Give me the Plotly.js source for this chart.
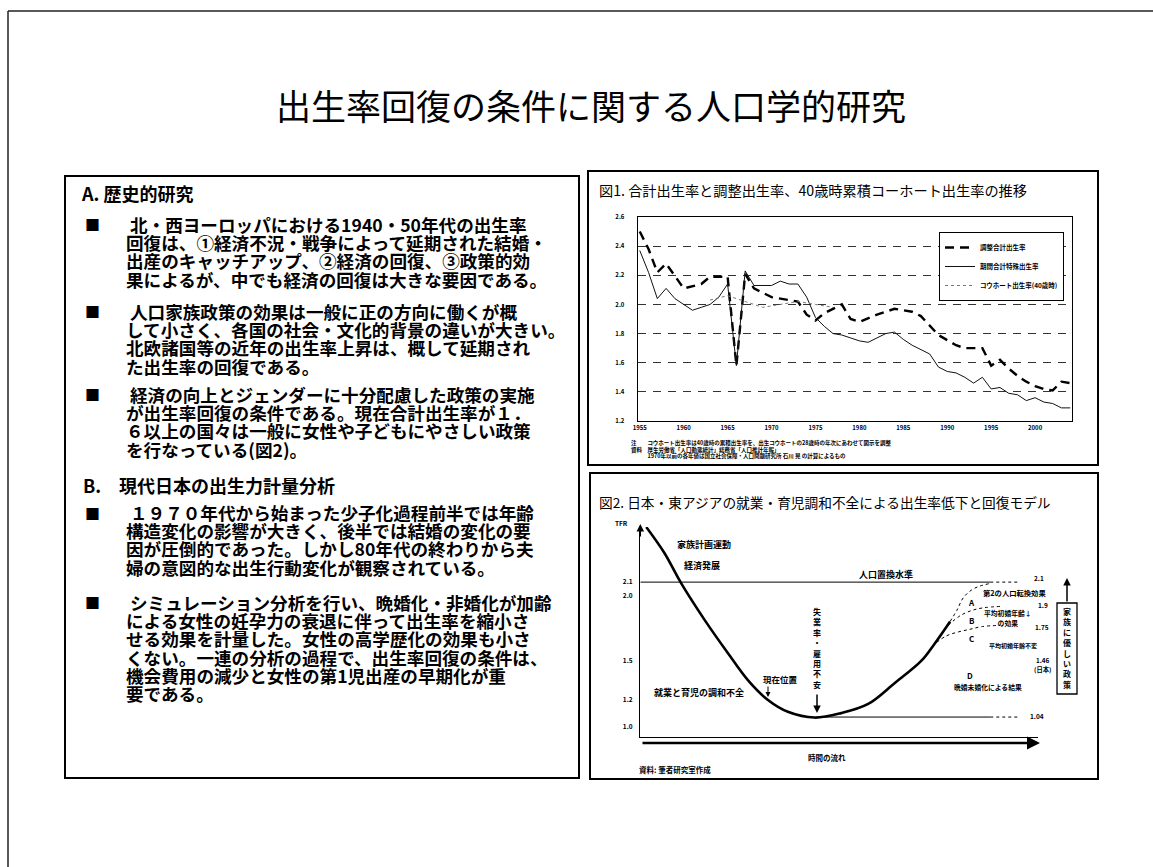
<!DOCTYPE html>
<html><head><meta charset="utf-8">
<script src="https://cdn.plot.ly/plotly-3.0.1.min.js"></script>
<style>html,body{margin:0;padding:0;background:#fff;}#chart{width:1153px;height:867px;}</style>
</head><body><div id="chart"></div>
<script>
// ---------- Fig.1 data ----------
const years = [1955,1956,1957,1958,1959,1960,1961,1962,1963,1964,1965,1966,1967,1968,1969,1970,1971,1972,1973,1974,1975,1976,1977,1978,1979,1980,1981,1982,1983,1984,1985,1986,1987,1988,1989,1990,1991,1992,1993,1994,1995,1996,1997,1998,1999,2000,2001,2002,2003,2004];
const tfr = [2.37,2.22,2.04,2.11,2.04,2.00,1.96,1.98,2.00,2.05,2.14,1.58,2.23,2.13,2.13,2.13,2.16,2.14,2.14,2.05,1.91,1.85,1.80,1.79,1.77,1.75,1.74,1.77,1.80,1.81,1.76,1.72,1.69,1.66,1.57,1.54,1.53,1.50,1.46,1.50,1.42,1.43,1.39,1.38,1.34,1.36,1.33,1.32,1.29,1.29];
const adjYears = [1955,1956,1957,1958,1960,1962,1963,1965,1966,1967,1968,1970,1973,1974,1975,1976,1978,1979,1980,1982,1984,1985,1986,1987,1989,1991,1992,1994,1995,1996,1997,1998,1999,2000,2001,2002,2003,2004];
const adjTfr = [2.50,2.38,2.22,2.28,2.11,2.14,2.19,2.19,1.58,2.21,2.11,2.05,2.02,1.93,1.89,1.94,2.00,1.90,1.88,1.93,1.97,1.96,1.95,1.92,1.79,1.72,1.70,1.70,1.58,1.62,1.56,1.51,1.47,1.44,1.42,1.41,1.47,1.46];
const cohortYears = [1963,1965,1967,1969,1971,1973,1975,1977];
const cohortTfr = [2.03,2.06,2.02,1.98,2.00,2.02,2.00,1.98];
const seriesNames = ['調整合計出生率','期間合計特殊出生率','コウホート出生率(40歳時)'];
const fig1Years = [1955,1960,1965,1970,1975,1980,1985,1990,1995,2000];

// ---------- Fig.2 data (schematic model) ----------
const curveX = [1.5,6.1,10.3,16.2,22.1,27.1,32.1,37.1,43.8,50.5,57.3,64.0,70.7,74.0,77.9];
const curveY = [2.52,2.32,2.09,1.81,1.555,1.35,1.20,1.11,1.066,1.10,1.17,1.33,1.50,1.63,1.80];
const branchAX = [77.9,79.6,81.2,83.3,85.4,88.0];
const branchAY = [1.80,1.885,1.98,2.04,2.07,2.09];
const branchBX = [77.4,80.5,83.5,86.5,91.0];
const branchBY = [1.77,1.845,1.885,1.905,1.915];
const branchCX = [74.5,77.0,80.0,82.9,85.8,90.4];
const branchCY = [1.64,1.69,1.72,1.74,1.76,1.77];
const replSolidX = [0,88], replDotX = [88,95.5], replLevel = 2.1;
const minSolidX = [45,88], minDotX = [88,95], minLevel = 1.07;
const fig2TickVals = [1.0,1.2,1.5,2.0,2.1];
const fig2TickText = ['1.0','1.2','1.5','2.0','2.1'];

// ---------- Texts ----------
const slideTitle = '出生率回復の条件に関する人口学的研究';
const fig1Title = '図1. 合計出生率と調整出生率、40歳時累積コーホート出生率の推移';
const fig2Title = '図2. 日本・東アジアの就業・育児調和不全による出生率低下と回復モデル';
const fig1Notes = ['注　　コウホート出生率は40歳時の累積出生率を、出生コウホートの28歳時の年次にあわせて図示を調整',
  '資料　厚生労働省「人口動態統計」総務省「人口推計年報」',
  '　　　1970年以前の各年値は国立社会保障・人口問題研究所 石川 晃 の計算によるもの'];
const headA = 'A. 歴史的研究';
const headB1 = 'B.', headB2 = '現代日本の出生力計量分析';
const bullets = [
 [' 北・西ヨーロッパにおける1940・50年代の出生率','回復は、①経済不況・戦争によって延期された結婚・','出産のキャッチアップ、②経済の回復、③政策的効','果によるが、中でも経済の回復は大きな要因である。'],
 [' 人口家族政策の効果は一般に正の方向に働くが概','して小さく、各国の社会・文化的背景の違いが大きい。','北欧諸国等の近年の出生率上昇は、概して延期され','た出生率の回復である。'],
 [' 経済の向上とジェンダーに十分配慮した政策の実施','が出生率回復の条件である。現在合計出生率が１．','６以上の国々は一般に女性や子どもにやさしい政策','を行なっている(図2)。'],
 [' １９７０年代から始まった少子化過程前半では年齢','構造変化の影響が大きく、後半では結婚の変化の要','因が圧倒的であった。しかし80年代の終わりから夫','婦の意図的な出生行動変化が観察されている。'],
 [' シミュレーション分析を行い、晩婚化・非婚化が加齢','による女性の妊孕力の衰退に伴って出生率を縮小さ','せる効果を計量した。女性の高学歴化の効果も小さ','くない。一連の分析の過程で、出生率回復の条件は、','機会費用の減少と女性の第1児出産の早期化が重','要である。']
];

// ---------- helpers ----------
const W = 1153, H = 867;
const X = p => p / W, Y = p => 1 - p / H;
const FONT = '"Noto Sans CJK JP", "Noto Sans CJK SC", sans-serif';
function T(text, px, py, size, o) {
  o = o || {};
  return {text: text, x: X(px), y: Y(py), xref: 'paper', yref: 'paper', showarrow: false,
    xanchor: o.xa || 'left', yanchor: 'middle', align: o.align || 'left', borderpad: 0,
    font: {family: FONT, size: size, color: '#000', weight: o.w || 'normal'}};
}
// multi-line block: line pitch = 1.3*base; glyphs drawn at glyph size
function BLOCK(lines, px, firstY, pitch, glyph, o) {
  const base = pitch / 1.3;
  const txt = '<span style="font-size:' + glyph + 'px">' + lines.join('<br>') + '</span>';
  const cy = firstY + pitch * (lines.length - 1) / 2;
  return T(txt, px, cy, base, o);
}
function ARW(px, py, dx, dy, w, head) {
  return {text: '', x: X(px), y: Y(py), xref: 'paper', yref: 'paper', showarrow: true,
    ax: dx, ay: dy, axref: 'pixel', ayref: 'pixel', arrowhead: head || 2, arrowsize: 1,
    arrowwidth: w || 1.2, arrowcolor: '#000'};
}

const ann = [];
ann.push(T(slideTitle, 591, 105, 35, {xa: 'center'}));
ann.push(T(headA, 80, 193, 18, {w: 'bold'}));
ann.push(T(headB1, 82, 485, 18, {w: 'bold'}));
ann.push(T(headB2, 118, 485, 18, {w: 'bold'}));
const firstLineY = [225, 312, 395, 513, 602];
bullets.forEach((b, i) => {
  ann.push(T('■', 92, firstLineY[i], 15, {xa: 'center'}));
  ann.push(BLOCK(b, 125, firstLineY[i], 18.2, 17.6, {w: 'bold'}));
});
// Fig.1 texts
ann.push(T(fig1Title, 598, 190, 14.2));
ann.push(BLOCK(fig1Notes, 630, 443, 6.5, 5.5, {w: 'bold'}));
// Fig.2 texts
ann.push(T(fig2Title, 598, 502, 13.7));
ann.push(T('TFR', 621, 523, 6.5, {xa: 'center', w: 'bold'}));
ann.push(T('家族計画運動', 676, 544, 9, {w: 'bold'}));
ann.push(T('経済発展', 683, 565, 9, {w: 'bold'}));
ann.push(T('人口置換水準', 858, 574, 9, {w: 'bold'}));
ann.push(T('失<br>業<br>率<br>・<br>雇<br>用<br>不<br>安', 817, 648, 8, {xa: 'center', align: 'center', w: 'bold'}));
ann.push(ARW(817, 713, 0, -20, 1.5, 2));
ann.push(T('現在位置', 780, 679, 8.5, {xa: 'center', w: 'bold'}));
ann.push(ARW(768, 697, 0, -12, 1, 2));
ann.push(T('就業と育児の調和不全', 653, 692, 9, {w: 'bold'}));
ann.push(T('A', 971.5, 602.5, 8, {xa: 'center', w: 'bold'}));
ann.push(T('B', 971.5, 620.7, 8, {xa: 'center', w: 'bold'}));
ann.push(T('C', 971.5, 638.3, 8, {xa: 'center', w: 'bold'}));
ann.push(T('D', 970, 675, 8, {xa: 'center', w: 'bold'}));
ann.push(T('2.1', 1039, 578, 6.5, {xa: 'center', w: 'bold'}));
ann.push(T('第2の人口転換効果', 982, 593, 7.3, {w: 'bold'}));
ann.push(T('1.9', 1043, 605, 6.5, {xa: 'center', w: 'bold'}));
ann.push(BLOCK(['平均初婚年齢↓', 'の効果'], 1008, 613.5, 9.5, 6.8, {xa: 'center', align: 'center', w: 'bold'}));
ann.push(T('1.75', 1042, 626.5, 6.5, {xa: 'center', w: 'bold'}));
ann.push(T('平均初婚年齢不変', 988, 645, 6, {w: 'bold'}));
ann.push(BLOCK(['1.46', '(日本)'], 1042, 661, 8.5, 6.3, {xa: 'center', align: 'center', w: 'bold'}));
ann.push(T('晩婚未婚化による結果', 953, 687, 6.8, {w: 'bold'}));
ann.push(T('1.04', 1037, 716, 6.5, {xa: 'center', w: 'bold'}));
ann.push(T('時間の流れ', 827, 757, 7.5, {xa: 'center', w: 'bold'}));
ann.push(T('資料: 筆者研究室作成', 638, 769, 7.5, {w: 'bold'}));
ann.push(T('家<br>族<br>に<br>優<br>し<br>い<br>政<br>策', 1067, 648, 8, {xa: 'center', align: 'center', w: 'bold'}));
ann.push(ARW(1067, 578, 0, 25, 1.5, 2));
// axis arrows of Fig.2
ann.push(ARW(640.3, 524, 0, 14, 1.5, 2));
ann.push(ARW(1040, 743, -399, 0, 2.6, 2));

const rect = (x0, y0, x1, y1, w) => ({type: 'rect', xref: 'paper', yref: 'paper', x0: X(x0), x1: X(x1), y0: Y(y1), y1: Y(y0), line: {color: '#000', width: w}, fillcolor: 'rgba(0,0,0,0)', layer: 'below'});
const line = (x0, y0, x1, y1, w) => ({type: 'line', xref: 'paper', yref: 'paper', x0: X(x0), x1: X(x1), y0: Y(y0), y1: Y(y1), line: {color: '#222', width: w}});
const shapes = [
  line(8, 11, 1153, 11, 1.5), line(8, 11, 8, 867, 1.5),
  rect(65, 176, 579, 778, 2),
  rect(588, 171, 1098, 465, 2),
  rect(590, 473, 1098, 779, 2),
  rect(1057, 603, 1077, 694, 1.3)
];

const traces = [
  {x: adjYears, y: adjTfr, name: seriesNames[0], type: 'scatter', mode: 'lines', xaxis: 'x', yaxis: 'y',
   line: {color: '#000', width: 2.4, dash: '9px,6px'}},
  {x: years, y: tfr, name: seriesNames[1], type: 'scatter', mode: 'lines', xaxis: 'x', yaxis: 'y',
   line: {color: '#111', width: 1}},
  {x: cohortYears, y: cohortTfr, name: seriesNames[2], type: 'scatter', mode: 'lines', xaxis: 'x', yaxis: 'y',
   line: {color: '#777', width: 1, dash: 'dot'}},
  // Fig.2
  {x: replSolidX, y: replSolidX.map(() => replLevel), xaxis: 'x2', yaxis: 'y2', mode: 'lines', showlegend: false, line: {color: '#000', width: 1}},
  {x: replDotX, y: replDotX.map(() => replLevel), xaxis: 'x2', yaxis: 'y2', mode: 'lines', showlegend: false, line: {color: '#000', width: 1, dash: 'dot'}},
  {x: minSolidX, y: minSolidX.map(() => minLevel), xaxis: 'x2', yaxis: 'y2', mode: 'lines', showlegend: false, line: {color: '#000', width: 1}},
  {x: minDotX, y: minDotX.map(() => minLevel), xaxis: 'x2', yaxis: 'y2', mode: 'lines', showlegend: false, line: {color: '#000', width: 1, dash: 'dot'}},
  {x: curveX, y: curveY, xaxis: 'x2', yaxis: 'y2', mode: 'lines', showlegend: false, cliponaxis: false, line: {color: '#000', width: 2.6, shape: 'spline'}},
  {x: branchAX, y: branchAY, xaxis: 'x2', yaxis: 'y2', mode: 'lines', showlegend: false, line: {color: '#000', width: 1, dash: 'dot', shape: 'spline'}},
  {x: branchBX, y: branchBY, xaxis: 'x2', yaxis: 'y2', mode: 'lines', showlegend: false, line: {color: '#000', width: 1, dash: 'dot', shape: 'spline'}},
  {x: branchCX, y: branchCY, xaxis: 'x2', yaxis: 'y2', mode: 'lines', showlegend: false, line: {color: '#000', width: 1, dash: 'dot', shape: 'spline'}}
];

const layout = {
  width: W, height: H, margin: {l: 0, r: 0, t: 0, b: 0},
  paper_bgcolor: '#fff', plot_bgcolor: 'rgba(0,0,0,0)',
  font: {family: FONT, color: '#000'},
  showlegend: true,
  legend: {x: X(939), y: Y(232), xanchor: 'left', yanchor: 'top', bordercolor: '#000', borderwidth: 1,
    bgcolor: '#fff', font: {size: 6.5, family: FONT, weight: 'bold'}, tracegroupgap: 0, itemwidth: 30},
  xaxis: {domain: [X(638), X(1072)], range: [1954.8, 2004.2], anchor: 'y', tickvals: fig1Years,
    ticks: '', showgrid: false, showline: true, linecolor: '#000', linewidth: 1.4, mirror: true,
    zeroline: false, tickfont: {size: 6, weight: 'bold'}},
  yaxis: {domain: [Y(421), Y(217)], range: [1.2, 2.6], anchor: 'x', tick0: 1.2, dtick: 0.2, tickformat: '.1f',
    showgrid: true, gridcolor: '#333', griddash: '8px,7px', gridwidth: 1, showline: true, linecolor: '#000',
    linewidth: 1.4, mirror: true, zeroline: false, ticks: '', ticklabelstandoff: 11, tickfont: {size: 6, weight: 'bold'}},
  xaxis2: {domain: [X(640.3), X(1038)], range: [0, 100], anchor: 'y2', showticklabels: false, ticks: '',
    showgrid: false, showline: true, linecolor: '#000', linewidth: 1.2, zeroline: false},
  yaxis2: {domain: [Y(736.7), Y(527.1)], range: [0.92, 2.52], anchor: 'x2', tickvals: fig2TickVals, ticktext: fig2TickText,
    showgrid: false, showline: true, linecolor: '#000', linewidth: 1.4, zeroline: false, ticks: '',
    ticklabelstandoff: 5, tickfont: {size: 6.5, weight: 'bold'}},
  shapes: shapes, annotations: ann
};
Plotly.newPlot('chart', traces, layout, {displayModeBar: false, staticPlot: true});
</script></body></html>
